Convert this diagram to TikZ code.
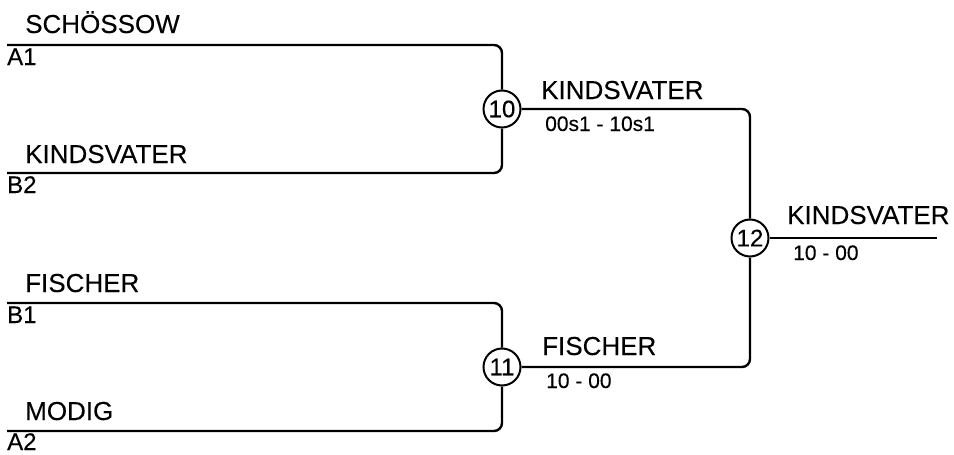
\documentclass[tikz,border=0pt]{standalone}
\usepackage{fontspec}
\setmainfont[FakeBold=0.2]{Liberation Sans}
\begin{document}
\begin{tikzpicture}[x=1pt,y=-1pt,
  ln/.style={line width=2.4pt, rounded corners=8pt},
  mcirc/.style={circle, draw, line width=2pt, minimum size=37pt, inner sep=0pt, font=\fontsize{24}{24}\selectfont},
  nm/.style={anchor=base west, inner sep=0pt, font=\fontsize{26}{26}\selectfont},
  sc/.style={anchor=base west, inner sep=0pt, font=\fontsize{21}{21}\selectfont},
  sd/.style={anchor=base west, inner sep=0pt, font=\fontsize{24}{24}\selectfont}]
\useasboundingbox (0,0) rectangle (954,455);
% match circles
\node[mcirc] (c10) at (502,109) {10};
\node[mcirc] (c11) at (502,367) {11};
\node[mcirc] (c12) at (750,238) {12};
% line start coordinates
\coordinate (a1) at (7,45);
\coordinate (b2) at (7,173);
\coordinate (b1) at (7,303);
\coordinate (a2) at (7,431);
\coordinate (fin) at (937,238);
% connectors
\draw[ln] (a1) -| (c10.north);
\draw[ln] (b2) -| (c10.south);
\draw[ln] (b1) -| (c11.north);
\draw[ln] (a2) -| (c11.south);
\draw[ln] (c10.east) -| (c12.north);
\draw[ln] (c11.east) -| (c12.south);
\draw[ln] (c12.east) -- (fin);
% names
\node[nm] (n1) at (25,33) {SCHÖSSOW};
\node[nm] (n2) at (25,163) {KINDSVATER};
\node[nm] (n3) at (25,292) {FISCHER};
\node[nm] (n4) at (25,420) {MODIG};
\node[nm] (n5) at (541,99) {KINDSVATER};
\node[nm] (n6) at (542,355) {FISCHER};
\node[nm] (n7) at (787,224) {KINDSVATER};
% seeds
\node[sd] (s1) at (7,65) {A1};
\node[sd] (s2) at (7,193) {B2};
\node[sd] (s3) at (7,323) {B1};
\node[sd] (s4) at (7,450) {A2};
% scores
\node[sc] (r1) at (545,131) {00s1 - 10s1};
\node[sc] (r2) at (546,388) {10 - 00};
\node[sc] (r3) at (793,260) {10 - 00};
\end{tikzpicture}
\end{document}
